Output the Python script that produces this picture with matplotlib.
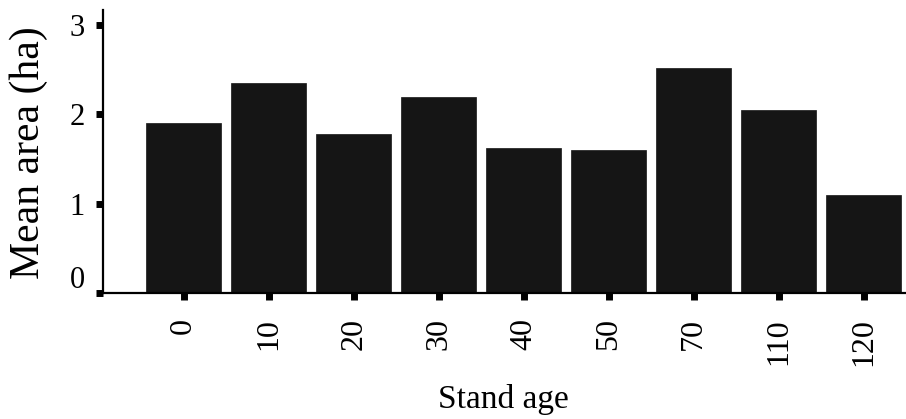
import matplotlib
matplotlib.use("Agg")
import matplotlib.pyplot as plt
from matplotlib.transforms import ScaledTranslation

# Mean patch area by stand age class
stand_age = ["0", "10", "20", "30", "40", "50", "70", "110", "120"]
mean_area = [1.9, 2.35, 1.78, 2.2, 1.62, 1.6, 2.52, 2.05, 1.1]
y_ticks = [0, 1, 2, 3]

plt.rcParams["font.family"] = ["Liberation Serif", "DejaVu Serif"]

fig = plt.figure(figsize=(9.06, 4.19), dpi=100)
ax = fig.add_axes([0.1137, 0.3007, 0.8863, 0.6753])

x = range(len(stand_age))
ax.bar(x, mean_area, width=0.88, color="#151515", edgecolor="#151515", linewidth=0.5)

ax.set_xlim(-0.95, 8.5)
ax.set_ylim(0, 3.17)

ax.set_xticks(list(x))
ax.set_xticklabels(stand_age, rotation=90, fontsize=23)
ax.set_yticks(y_ticks)
ax.set_yticklabels([str(t) for t in y_ticks], fontsize=22)

for side in ("top", "right"):
    ax.spines[side].set_visible(False)
for side in ("left", "bottom"):
    ax.spines[side].set_linewidth(1.6)
    ax.spines[side].set_color("black")

ax.tick_params(axis="x", direction="out", length=5, width=5, pad=13, colors="black")
ax.tick_params(axis="y", direction="out", length=5, width=5, pad=8, colors="black")

# the zero label sits a little above its tick
lab0 = ax.get_yticklabels()[0]
lab0.set_transform(lab0.get_transform() + ScaledTranslation(0, 0.16, fig.dpi_scale_trans))

ax.set_xlabel("Stand age", fontsize=24)
ax.set_ylabel("Mean area (ha)", fontsize=30)
ax.yaxis.set_label_coords(-0.068, 0.495)
ax.xaxis.set_label_coords(0.498, -0.32)

fig.savefig("out.png", dpi=100)
